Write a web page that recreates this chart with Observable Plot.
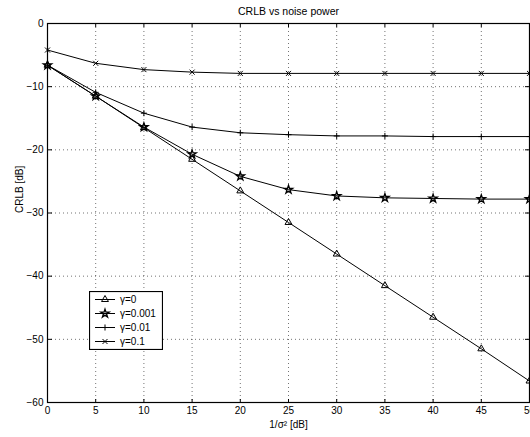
<!DOCTYPE html>
<html><head><meta charset="utf-8">
<script src="https://cdn.jsdelivr.net/npm/d3@7"></script>
<script src="https://cdn.jsdelivr.net/npm/@observablehq/plot@0.6"></script>
<style>
body{margin:0;background:#fff;font-family:"Liberation Sans",Arial,sans-serif}
#wrap{position:relative;width:530px;height:437px;overflow:hidden}
#legend{position:absolute;left:89px;top:291px}
</style>
</head><body><div id="wrap"></div>
<script>
const snrDb = [0, 5, 10, 15, 20, 25, 30, 35, 40, 45, 50];
const crlbGamma0 = [-6.6, -11.5, -16.5, -21.5, -26.5, -31.5, -36.5, -41.5, -46.5, -51.5, -56.6];
const crlbGamma0001 = [-6.6, -11.5, -16.4, -20.7, -24.2, -26.3, -27.3, -27.6, -27.7, -27.8, -27.8];
const crlbGamma001 = [-6.6, -10.9, -14.2, -16.4, -17.3, -17.6, -17.8, -17.8, -17.9, -17.9, -17.9];
const crlbGamma01 = [-4.2, -6.3, -7.3, -7.7, -7.9, -7.9, -7.9, -7.9, -7.9, -7.9, -7.9];
const seriesNames = ["γ=0", "γ=0.001", "γ=0.01", "γ=0.1"];
const xTicks = [0, 5, 10, 15, 20, 25, 30, 35, 40, 45, 50];
const yTicks = [-60, -50, -40, -30, -20, -10, 0];
const titleText = "CRLB vs noise power";
const xLabel = "1/σ² [dB]";
const yLabel = "CRLB [dB]";

// marker styling (not data)
const markerStyle = {
  "γ=0": {symbol: "triangle2", r: 3.3, sw: 1},
  "γ=0.001": {symbol: "star", r: 2.6, sw: 1.3},
  "γ=0.01": {symbol: "plus", r: 2.1, sw: 1},
  "γ=0.1": {symbol: "times", r: 2.4, sw: 1}
};

const allSeries = [crlbGamma0, crlbGamma0001, crlbGamma001, crlbGamma01];
const rows = [];
allSeries.forEach((vals, i) => vals.forEach((v, j) => rows.push({x: snrDb[j], y: v, s: seriesNames[i]})));

const fmt = d => d < 0 ? "\u2212" + (-d) : String(d);
const font = "Liberation Sans, Arial, sans-serif";

const dotMarks = seriesNames.map(name => Plot.dot(rows.filter(d => d.s === name), {
  x: "x", y: "y", symbol: markerStyle[name].symbol, r: markerStyle[name].r,
  stroke: "#000", fill: "none", strokeWidth: markerStyle[name].sw
}));

const chart = Plot.plot({
  width: 530, height: 437,
  marginTop: 23, marginBottom: 35, marginLeft: 47, marginRight: 1,
  style: {fontFamily: font, fontSize: "10px", background: "#fff", color: "#000", overflow: "hidden"},
  x: {domain: [0, 50]},
  y: {domain: [-60, 0]},
  marks: [
    Plot.gridX(xTicks, {stroke: "#000", strokeOpacity: 0.55, strokeDasharray: "1,3"}),
    Plot.gridY(yTicks, {stroke: "#000", strokeOpacity: 0.55, strokeDasharray: "1,3"}),
    Plot.axisX(xTicks, {anchor: "bottom", tickSize: 0, tickPadding: 4, tickFormat: fmt, label: null, fontSize: 10}),
    Plot.axisX(xTicks, {anchor: "top", frameAnchor: "bottom", tickSize: 4, tickFormat: () => "", label: null}),
    Plot.axisX(xTicks, {anchor: "bottom", frameAnchor: "top", tickSize: 4, tickFormat: () => "", label: null}),
    Plot.axisY(yTicks, {anchor: "left", tickSize: 0, tickPadding: 4, tickFormat: fmt, label: null, fontSize: 10}),
    Plot.axisY(yTicks, {anchor: "right", frameAnchor: "left", tickSize: 4, tickFormat: () => "", label: null}),
    Plot.axisY(yTicks, {anchor: "left", frameAnchor: "right", tickSize: 4, tickFormat: () => "", label: null}),
    Plot.frame({stroke: "#000", strokeWidth: 1.2}),
    Plot.line(rows, {x: "x", y: "y", z: "s", stroke: "#000", strokeWidth: 1}),
    ...dotMarks,
    Plot.text([titleText], {frameAnchor: "top", dy: -9, lineAnchor: "bottom", fontSize: 10.5}),
    Plot.text([xLabel], {frameAnchor: "bottom", dy: 18, lineAnchor: "top", fontSize: 10}),
    Plot.text([yLabel], {frameAnchor: "left", dx: -28, rotate: -90, fontSize: 10})
  ]
});
document.getElementById("wrap").appendChild(chart);

// legend inside plot area
const lw = 74, lh = 59;
const leg = d3.select("#wrap").append("svg").attr("id", "legend").attr("width", lw).attr("height", lh)
  .style("font-family", font).style("font-size", "10px");
leg.append("rect").attr("x", 0.5).attr("y", 0.5).attr("width", lw - 1).attr("height", lh - 1)
  .attr("fill", "#fff").attr("stroke", "#000").attr("stroke-width", 1.2);
const symMap = {triangle2: d3.symbolTriangle2, star: d3.symbolStar, plus: d3.symbolPlus, times: d3.symbolTimes};
seriesNames.forEach((name, i) => {
  const cy = 8.5 + i * 14;
  const st = markerStyle[name];
  const g = leg.append("g");
  g.append("line").attr("x1", 6).attr("x2", 26).attr("y1", cy).attr("y2", cy).attr("stroke", "#000");
  g.append("path").attr("transform", `translate(16,${cy})`)
    .attr("d", d3.symbol(symMap[st.symbol], st.r * st.r * Math.PI)())
    .attr("fill", "none").attr("stroke", "#000").attr("stroke-width", st.sw);
  g.append("text").attr("x", 31).attr("y", cy).attr("dy", "0.35em").text(name);
});
</script>
</body></html>
